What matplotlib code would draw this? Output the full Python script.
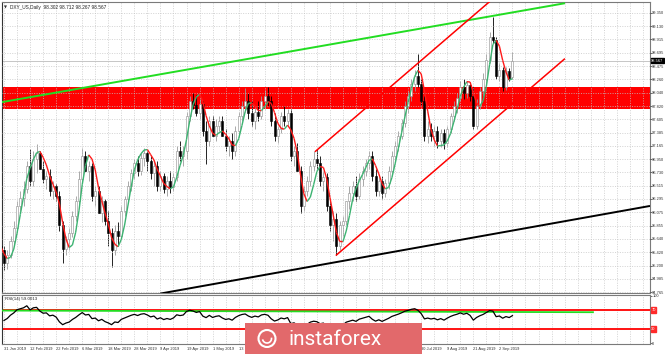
import numpy as np
import matplotlib.pyplot as plt
import matplotlib.transforms as mtransforms
from matplotlib.collections import LineCollection
from matplotlib.patches import Rectangle, Ellipse, Arc

plt.rcParams["font.family"] = ["Liberation Sans", "DejaVu Sans"]

# DXY_US daily candles. The first WARMUP bars sit left of the visible window
# (they only feed the moving average and the RSI)
WARMUP = 15

opens = [
    95.20, 95.30, 95.45, 95.40, 95.60, 95.55, 95.75, 95.70, 95.85, 95.80,
    95.72, 95.78, 95.65, 95.58, 95.52,
    95.45, 95.25, 95.37, 95.61, 95.81, 96.18, 96.31, 96.46, 96.84, 96.59,
    96.95, 97.05, 96.79, 96.62, 96.67, 96.43, 96.51, 96.35, 95.86, 95.48,
    95.64, 95.74, 96.02, 96.26, 96.62, 97.00, 96.75, 96.84, 96.35, 96.43,
    96.07, 96.26, 95.94, 95.74, 95.45, 95.77, 95.69, 96.10, 96.30, 96.51,
    96.72, 96.88, 96.75, 96.97, 97.05, 96.92, 96.72, 96.84, 96.51, 96.67,
    96.46, 96.59, 96.49, 96.66, 97.08, 97.00, 97.08, 97.65, 97.90, 97.83,
    97.70, 97.85, 97.41, 97.24, 97.57, 97.33, 97.49, 97.57, 97.33, 97.16,
    97.24, 97.08, 97.41, 97.65, 97.82, 97.90, 97.70, 97.57, 97.73, 97.65,
    97.90, 97.98, 97.90, 97.57, 97.33, 97.44, 97.65, 97.57, 97.70, 97.00,
    97.08, 96.75, 96.18, 96.43, 96.59, 96.84, 96.95, 96.88, 96.59, 96.66,
    96.18, 95.86, 95.97, 95.53, 95.86, 95.94, 96.26, 96.39, 96.51, 96.35,
    96.62, 96.75, 96.88, 97.00, 96.67, 96.43, 96.59, 96.39, 96.56, 96.75,
    97.00, 97.16, 97.33, 97.54, 97.82, 97.98, 98.19, 98.31, 98.19, 97.90,
    97.33, 97.44, 97.33, 97.41, 97.24, 97.38, 97.21, 97.44, 97.65, 97.82,
    97.95, 98.14, 98.03, 98.16, 97.98, 97.49, 97.82, 98.06, 98.26, 98.58,
    98.96, 98.91, 98.31, 98.42, 98.14, 98.39, 98.302,
]
highs = [
    95.38, 95.52, 95.55, 95.68, 95.70, 95.82, 95.85, 95.95, 95.92, 95.88,
    95.86, 95.82, 95.72, 95.65, 95.60,
    95.53, 95.45, 95.69, 95.94, 96.26, 96.43, 96.59, 96.92, 97.11, 97.08,
    97.20, 97.08, 96.92, 96.75, 96.79, 96.59, 96.54, 96.43, 95.94, 95.69,
    95.81, 96.10, 96.35, 96.75, 97.13, 97.08, 96.92, 96.88, 96.51, 96.51,
    96.35, 96.30, 96.10, 95.81, 95.86, 95.91, 96.18, 96.35, 96.59, 96.79,
    96.95, 97.00, 97.05, 97.13, 97.08, 97.00, 96.92, 96.92, 96.75, 96.72,
    96.67, 96.75, 96.72, 97.16, 97.24, 97.16, 97.73, 97.98, 98.03, 98.01,
    97.93, 97.90, 97.57, 97.65, 97.65, 97.60, 97.65, 97.65, 97.44, 97.33,
    97.38, 97.49, 97.73, 97.90, 98.11, 98.03, 97.90, 97.82, 97.90, 97.98,
    98.09, 98.14, 97.98, 97.70, 97.49, 97.73, 97.82, 97.77, 97.77, 97.16,
    97.21, 96.84, 96.51, 96.67, 96.92, 97.08, 97.11, 97.00, 96.75, 96.72,
    96.26, 96.10, 96.07, 95.94, 96.02, 96.26, 96.51, 96.59, 96.67, 96.72,
    96.84, 96.95, 97.08, 97.08, 96.79, 96.67, 96.67, 96.62, 96.84, 97.08,
    97.24, 97.41, 97.60, 97.90, 98.06, 98.26, 98.42, 98.68, 98.26, 97.98,
    97.57, 97.54, 97.49, 97.49, 97.44, 97.44, 97.49, 97.70, 97.90, 98.03,
    98.23, 98.26, 98.23, 98.19, 98.14, 97.93, 98.14, 98.36, 98.68, 99.04,
    99.29, 98.96, 98.52, 98.47, 98.47, 98.45, 98.712,
]
lows = [
    95.12, 95.25, 95.32, 95.35, 95.48, 95.50, 95.62, 95.65, 95.72, 95.65,
    95.66, 95.60, 95.52, 95.46, 95.40,
    95.12, 95.15, 95.32, 95.53, 95.74, 96.10, 96.18, 96.40, 96.51, 96.51,
    96.72, 96.79, 96.56, 96.46, 96.35, 96.30, 96.26, 95.77, 95.24, 95.37,
    95.45, 95.67, 95.94, 96.18, 96.56, 96.75, 96.59, 96.26, 96.18, 96.07,
    95.91, 95.86, 95.53, 95.17, 95.37, 95.53, 95.64, 96.02, 96.23, 96.43,
    96.62, 96.67, 96.69, 96.84, 96.75, 96.62, 96.51, 96.43, 96.43, 96.39,
    96.35, 96.39, 96.43, 96.59, 96.92, 96.84, 96.95, 97.57, 97.77, 97.65,
    97.60, 97.33, 96.87, 97.16, 97.33, 97.24, 97.41, 97.33, 97.08, 97.00,
    96.95, 97.00, 97.33, 97.57, 97.73, 97.60, 97.49, 97.44, 97.57, 97.60,
    97.77, 97.82, 97.49, 97.24, 97.21, 97.38, 97.49, 97.51, 96.92, 96.84,
    96.75, 96.07, 96.10, 96.35, 96.51, 96.75, 96.79, 96.51, 96.43, 96.10,
    95.77, 95.61, 95.37, 95.45, 95.69, 95.87, 96.13, 96.26, 96.26, 96.30,
    96.51, 96.67, 96.79, 96.59, 96.35, 96.35, 96.30, 96.33, 96.46, 96.67,
    96.92, 97.08, 97.28, 97.47, 97.70, 97.90, 98.06, 98.14, 97.82, 97.24,
    97.21, 97.24, 97.16, 97.13, 97.15, 97.11, 97.15, 97.38, 97.57, 97.70,
    97.90, 97.93, 97.96, 97.90, 97.44, 97.44, 97.77, 97.98, 98.19, 98.52,
    98.85, 98.26, 98.23, 98.06, 98.09, 98.23, 98.267,
]
closes = [
    95.30, 95.45, 95.40, 95.60, 95.55, 95.75, 95.70, 95.85, 95.80, 95.72,
    95.78, 95.65, 95.58, 95.52, 95.45,
    95.25, 95.37, 95.61, 95.81, 96.18, 96.31, 96.46, 96.84, 96.59, 96.95,
    97.05, 96.79, 96.62, 96.67, 96.43, 96.51, 96.35, 95.86, 95.48, 95.64,
    95.74, 96.02, 96.26, 96.62, 97.00, 96.75, 96.84, 96.35, 96.43, 96.07,
    96.26, 95.94, 95.74, 95.45, 95.77, 95.69, 96.10, 96.30, 96.51, 96.72,
    96.88, 96.75, 96.97, 97.05, 96.92, 96.72, 96.84, 96.51, 96.67, 96.46,
    96.59, 96.49, 96.66, 97.08, 97.00, 97.08, 97.65, 97.90, 97.83, 97.70,
    97.85, 97.41, 97.24, 97.57, 97.33, 97.49, 97.57, 97.33, 97.16, 97.24,
    97.08, 97.41, 97.65, 97.82, 97.90, 97.70, 97.57, 97.73, 97.65, 97.90,
    97.98, 97.90, 97.57, 97.33, 97.44, 97.65, 97.57, 97.70, 97.00, 97.08,
    96.75, 96.18, 96.43, 96.59, 96.84, 96.95, 96.88, 96.59, 96.66, 96.18,
    95.86, 95.97, 95.53, 95.86, 95.94, 96.26, 96.39, 96.51, 96.35, 96.62,
    96.75, 96.88, 97.00, 96.67, 96.43, 96.59, 96.39, 96.56, 96.75, 97.00,
    97.16, 97.33, 97.54, 97.82, 97.98, 98.19, 98.31, 98.19, 97.90, 97.33,
    97.44, 97.33, 97.41, 97.24, 97.38, 97.21, 97.44, 97.65, 97.82, 97.95,
    98.14, 98.03, 98.16, 97.98, 97.49, 97.82, 98.06, 98.26, 98.58, 98.96,
    98.91, 98.31, 98.42, 98.14, 98.39, 98.27, 98.567,
]

# date labels every 8 bars, starting at the first visible bar
date_labels = [
    "31 Jan 2019", "12 Feb 2019", "22 Feb 2019", "6 Mar 2019", "18 Mar 2019",
    "28 Mar 2019", "9 Apr 2019", "19 Apr 2019", "1 May 2019", "13 May 2019",
    "23 May 2019", "4 Jun 2019", "14 Jun 2019", "26 Jun 2019", "8 Jul 2019",
    "18 Jul 2019", "30 Jul 2019", "9 Aug 2019", "21 Aug 2019", "2 Sep 2019",
]
price_ticks = [
    94.765, 94.985, 95.200, 95.420, 95.640, 95.855, 96.075, 96.295, 96.515,
    96.730, 96.950, 97.165, 97.385, 97.605, 97.820, 98.040, 98.260, 98.475,
    98.695, 98.915, 99.130, 99.350,
]

# analyst drawings: (bar, price) anchors
resistance_zone = (97.78, 98.14)
green_trend = [(-1.2, 97.88), (172.1, 99.51)]
black_trend = [(47.9, 94.74), (198.2, 96.18)]
channel_upper = [(95.4, 97.07), (172.1, 100.60)]
channel_lower = [(101.8, 95.365), (172.1, 98.60)]
rsi_trend = [(-1.2, 69.0), (180.7, 65.5)]
rsi_levels = [70, 30]

title_text = "DXY_US,Daily  98.302 98.712 98.267 98.567"
rsi_text = "RSI(14) 59.0013"

o = np.array(opens)
h = np.array(highs)
l = np.array(lows)
c = np.array(closes)
x = np.arange(len(c)) - WARMUP


def wma(values, n):
    w = np.arange(1, n + 1)
    out = np.full(len(values), np.nan)
    for t in range(n - 1, len(values)):
        out[t] = np.dot(values[t - n + 1:t + 1], w) / w.sum()
    return out


# hull moving average, coloured by slope
N = 10
hma = wma(2 * wma(c, N // 2) - wma(c, N), int(np.sqrt(N)))

# Wilder RSI(14)
delta = np.diff(c)
gain = np.clip(delta, 0, None)
loss = np.clip(-delta, 0, None)
rsi = np.full(len(c), np.nan)
ag, al = gain[:14].mean(), loss[:14].mean()
rsi[14] = 100 - 100 / (1 + ag / al)
for t in range(15, len(c)):
    ag = (ag * 13 + gain[t - 1]) / 14
    al = (al * 13 + loss[t - 1]) / 14
    rsi[t] = 100 - 100 / (1 + ag / al)

W, H = 665, 354
fig = plt.figure(figsize=(W / 100, H / 100), dpi=100)
fig.patch.set_facecolor("white")

ax = fig.add_axes([2 / W, 1 - 293 / H, 648 / W, 291 / H])
ax2 = fig.add_axes([2 / W, 1 - 344 / H, 648 / W, 49 / H])

XMIN, XMAX = -0.61, 198.2
grid_kw = dict(color="#c4c4c4", linestyle=(0, (1.5, 2)), linewidth=0.5)
SMALL = 2.9

# ---- price panel ----
ax.set_xlim(XMIN, XMAX)
ax.set_ylim(94.75, 99.53)
ax.axhspan(*resistance_zone, color="#ff0000", zorder=0.5, lw=0)

ax.set_xticks(np.arange(0, 200, 4))
ax.set_xticklabels([])
ax.tick_params(axis="x", length=0)
ax.yaxis.tick_right()
ax.set_yticks(price_ticks)
ax.set_yticklabels([f"{p:.3f}" for p in price_ticks])
ax.tick_params(axis="y", labelsize=SMALL, length=1.2, width=0.5, pad=0.4,
               colors="#333333")
ax.grid(True, **grid_kw)
ax.set_axisbelow(False)
for gl in ax.get_xgridlines() + ax.get_ygridlines():
    gl.set_zorder(0.8)

ax.axhline(c[-1], color="#bdbdbd", lw=0.6, zorder=0.9)

vis = x >= 0
bull = c >= o
ax.vlines(x[bull], l[bull], h[bull], color="#9a9a9a", lw=0.6, zorder=2)
ax.vlines(x[~bull], l[~bull], h[~bull], color="black", lw=0.6, zorder=2)
body = np.maximum(np.abs(c - o), 0.008)
ax.bar(x[bull], body[bull], bottom=np.minimum(o, c)[bull], width=0.62,
       color="#ffffff", edgecolor="#8c8c8c", lw=0.4, zorder=3)
ax.bar(x[~bull], body[~bull], bottom=np.minimum(o, c)[~bull], width=0.62,
       color="black", edgecolor="black", lw=0.4, zorder=3)

pts = np.column_stack([x, hma])
segs, cols = [], []
for t in range(1, len(hma)):
    if np.isnan(hma[t - 1]):
        continue
    segs.append(pts[t - 1:t + 1])
    cols.append("#3cb371" if hma[t] >= hma[t - 1] else "#ff1a1a")
ax.add_collection(LineCollection(segs, colors=cols, lw=1.0, zorder=4))

for line, col in [(green_trend, "#22dd22"), (black_trend, "black"),
                  (channel_upper, "#ff0000"), (channel_lower, "#ff0000")]:
    (x0, y0), (x1, y1) = line
    ax.plot([x0, x1], [y0, y1], color=col, lw=1.4 if col != "#ff0000" else 1.1,
            zorder=5, solid_capstyle="butt")

ax.text(0.003, 0.988, "\u25bc", transform=ax.transAxes, fontsize=2.8,
        va="top", color="#333333", family="DejaVu Sans")
ax.text(0.012, 0.99, title_text, transform=ax.transAxes, fontsize=3.4,
        va="top", color="#222222")

ytrans = mtransforms.blended_transform_factory(ax.transAxes, ax.transData)
ax.text(1.002, c[-1], f"{c[-1]:.3f}", transform=ytrans, fontsize=SMALL,
        va="center", ha="left", color="white",
        bbox=dict(boxstyle="square,pad=0.12", fc="black", ec="black"))

for s in ax.spines.values():
    s.set_color("#7a7a7a")
    s.set_linewidth(0.8)
ax.spines["left"].set_color("#333333")

# ---- RSI panel ----
ax2.set_xlim(XMIN, XMAX)
ax2.set_ylim(-2.1, 102.1)
ax2.set_xticks(np.arange(0, 160, 8))
ax2.set_xticklabels(date_labels)
ax2.set_xticks(np.arange(0, 200, 4), minor=True)
ax2.tick_params(axis="x", which="both", length=0, labelsize=SMALL, pad=2.5,
                colors="#333333")
for lbl in ax2.get_xticklabels():
    lbl.set_ha("left")
ax2.grid(True, axis="x", which="both", **grid_kw)
ax2.yaxis.tick_right()
ax2.set_yticks([0, 100])
ax2.set_yticklabels(["0", "100"])
ax2.tick_params(axis="y", labelsize=SMALL, length=1.2, width=0.5, pad=0.4,
                colors="#333333")

for lv in rsi_levels:
    ax2.axhline(lv, color="#ff0000", lw=1.3, zorder=2)
    ax2.text(1.002, lv, str(lv), transform=ax2.get_yaxis_transform(),
             fontsize=SMALL, va="center", ha="left", color="white",
             bbox=dict(boxstyle="square,pad=0.18", fc="#ff2a2a", ec="#ff2a2a"))
(x0, y0), (x1, y1) = rsi_trend
ax2.plot([x0, x1], [y0, y1], color="#22dd22", lw=1.3, zorder=3)
ax2.plot(x[vis], rsi[vis], color="black", lw=0.9, zorder=4)
ax2.text(0.005, 0.95, rsi_text, transform=ax2.transAxes, fontsize=3.2,
         va="top", color="#222222")
for s in ax2.spines.values():
    s.set_color("#7a7a7a")
    s.set_linewidth(0.8)
ax2.spines["left"].set_color("#333333")

# ---- watermark ----
fig.add_artist(Rectangle((245 / W, 0), 177 / W, 31 / H, transform=fig.transFigure,
                         fc="#e2696b", ec="none", zorder=10))
fig.add_artist(Ellipse((267 / W, 15.5 / H), 17 / W, 17 / H,
                       transform=fig.transFigure, fc="none", ec="white",
                       lw=1.5, zorder=11))
fig.add_artist(Arc((267 / W, 15.5 / H), 9 / W, 9 / H, theta1=200, theta2=20,
                   transform=fig.transFigure, ec="white", lw=1.2, zorder=11))
fig.text(289 / W, 14.5 / H, "instaforex", color="white", fontsize=15,
         va="center", ha="left", zorder=11,
         family=["Liberation Sans Narrow", "Roboto"])

fig.savefig("out.png", dpi=100)
